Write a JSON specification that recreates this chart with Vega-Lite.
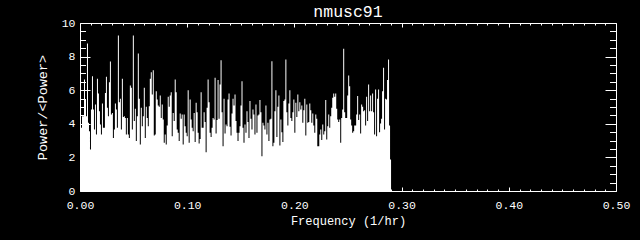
{
"$schema": "https://vega.github.io/schema/vega-lite/v6.json",
"width": 536, "height": 168,
"autosize": "none",
"padding": {"left": 80, "top": 23, "right": 24, "bottom": 49},
"background": "black",
"config": {"view": {"stroke": null}},
"title": {"text": "nmusc91", "color": "white", "fontSize": 16.5, "fontWeight": "normal", "font": "Liberation Mono", "offset": 3, "dy": 6, "anchor": "middle"},
"data": {"values": [
{"f":0,"p":3.8},{"f":0.00093,"p":3.76},{"f":0.00186,"p":4.45},{"f":0.00279,"p":4.45},{"f":0.00372,"p":6.64},{"f":0.00465,"p":5.45},{"f":0.00558,"p":4.45},{"f":0.00651,"p":8.78},{"f":0.00744,"p":4.06},{"f":0.00837,"p":3.56},
{"f":0.0093,"p":2.47},{"f":0.01023,"p":4.85},{"f":0.01116,"p":6.83},{"f":0.01209,"p":4.85},{"f":0.01302,"p":3.66},{"f":0.01395,"p":5.15},{"f":0.01488,"p":3.36},{"f":0.01581,"p":6.68},{"f":0.01674,"p":5.80},{"f":0.01767,"p":4.75},
{"f":0.0186,"p":3.96},{"f":0.01953,"p":3.36},{"f":0.02046,"p":5.21},{"f":0.02139,"p":3.76},{"f":0.02232,"p":3.76},{"f":0.02325,"p":5.84},{"f":0.02418,"p":6.80},{"f":0.02511,"p":4.95},{"f":0.02604,"p":4.45},{"f":0.02697,"p":6.48},
{"f":0.0279,"p":7.71},{"f":0.02883,"p":4.55},{"f":0.02976,"p":4.65},{"f":0.03069,"p":3.16},{"f":0.03162,"p":3.66},{"f":0.03255,"p":5.21},{"f":0.03348,"p":4.85},{"f":0.03441,"p":3.76},{"f":0.03534,"p":9.26},{"f":0.03627,"p":5.29},
{"f":0.0372,"p":5.49},{"f":0.03813,"p":3.66},{"f":0.03906,"p":6.68},{"f":0.03999,"p":4.41},{"f":0.04092,"p":4.45},{"f":0.04185,"p":4.35},{"f":0.04278,"p":3.36},{"f":0.04371,"p":4.35},{"f":0.04464,"p":3.36},{"f":0.04557,"p":3.16},
{"f":0.0465,"p":6.28},{"f":0.04743,"p":6.14},{"f":0.04836,"p":3.66},{"f":0.04929,"p":9.26},{"f":0.05022,"p":4.16},{"f":0.05115,"p":4.89},{"f":0.05208,"p":2.97},{"f":0.05301,"p":4.45},{"f":0.05394,"p":8.18},{"f":0.05487,"p":5.49},
{"f":0.0558,"p":2.77},{"f":0.05673,"p":4.95},{"f":0.05766,"p":3.86},{"f":0.05859,"p":4.45},{"f":0.05952,"p":6.14},{"f":0.06045,"p":3.16},{"f":0.06138,"p":5.01},{"f":0.06231,"p":4.35},{"f":0.06324,"p":3.86},{"f":0.06417,"p":5.05},
{"f":0.0651,"p":6.68},{"f":0.06603,"p":7.07},{"f":0.06696,"p":5.74},{"f":0.06789,"p":7.19},{"f":0.06882,"p":3.30},{"f":0.06975,"p":3.36},{"f":0.07068,"p":5.94},{"f":0.07161,"p":5.45},{"f":0.07254,"p":5.09},{"f":0.07347,"p":5.01},
{"f":0.0744,"p":5.68},{"f":0.07533,"p":4.35},{"f":0.07626,"p":5.15},{"f":0.07719,"p":4.26},{"f":0.07812,"p":2.87},{"f":0.07905,"p":3.36},{"f":0.07998,"p":2.77},{"f":0.08091,"p":3.90},{"f":0.08184,"p":5.61},{"f":0.08277,"p":5.01},
{"f":0.0837,"p":5.68},{"f":0.08463,"p":5.88},{"f":0.08556,"p":3.26},{"f":0.08649,"p":4.65},{"f":0.08742,"p":4.16},{"f":0.08835,"p":6.64},{"f":0.08928,"p":5.88},{"f":0.09021,"p":3.66},{"f":0.09114,"p":3.46},{"f":0.09207,"p":2.97},
{"f":0.093,"p":4.61},{"f":0.09393,"p":4.30},{"f":0.09486,"p":4.55},{"f":0.09579,"p":2.77},{"f":0.09672,"p":4.55},{"f":0.09765,"p":3.86},{"f":0.09858,"p":3.46},{"f":0.09951,"p":3.26},{"f":0.10044,"p":6.00},{"f":0.10137,"p":2.87},
{"f":0.1023,"p":5.45},{"f":0.10323,"p":4.26},{"f":0.10416,"p":3.76},{"f":0.10509,"p":3.56},{"f":0.10602,"p":4.65},{"f":0.10695,"p":2.91},{"f":0.10788,"p":5.25},{"f":0.10881,"p":4.69},{"f":0.10974,"p":3.46},{"f":0.11067,"p":2.83},
{"f":0.1116,"p":3.10},{"f":0.11253,"p":5.88},{"f":0.11346,"p":3.76},{"f":0.11439,"p":3.76},{"f":0.11532,"p":4.69},{"f":0.11625,"p":4.10},{"f":0.11718,"p":2.31},{"f":0.11811,"p":4.95},{"f":0.11904,"p":6.64},{"f":0.11997,"p":5.29},
{"f":0.1209,"p":3.46},{"f":0.12183,"p":3.22},{"f":0.12276,"p":3.76},{"f":0.12369,"p":4.35},{"f":0.12462,"p":4.26},{"f":0.12555,"p":6.74},{"f":0.12648,"p":3.42},{"f":0.12741,"p":4.22},{"f":0.12834,"p":6.60},{"f":0.12927,"p":4.30},
{"f":0.1302,"p":6.34},{"f":0.13113,"p":7.79},{"f":0.13206,"p":4.69},{"f":0.13299,"p":2.67},{"f":0.13392,"p":5.49},{"f":0.13485,"p":3.42},{"f":0.13578,"p":3.96},{"f":0.13671,"p":3.86},{"f":0.13764,"p":5.45},{"f":0.13857,"p":5.80},
{"f":0.1395,"p":3.82},{"f":0.14043,"p":3.30},{"f":0.14136,"p":4.61},{"f":0.14229,"p":5.49},{"f":0.14322,"p":5.09},{"f":0.14415,"p":5.74},{"f":0.14508,"p":4.16},{"f":0.14601,"p":3.46},{"f":0.14694,"p":2.97},{"f":0.14787,"p":3.46},
{"f":0.1488,"p":3.86},{"f":0.14973,"p":5.09},{"f":0.15066,"p":6.54},{"f":0.15159,"p":3.76},{"f":0.15252,"p":2.87},{"f":0.15345,"p":3.96},{"f":0.15438,"p":3.46},{"f":0.15531,"p":4.75},{"f":0.15624,"p":4.10},{"f":0.15717,"p":3.16},
{"f":0.1581,"p":5.35},{"f":0.15903,"p":4.30},{"f":0.15996,"p":3.66},{"f":0.16089,"p":4.85},{"f":0.16182,"p":4.55},{"f":0.16275,"p":3.36},{"f":0.16368,"p":5.15},{"f":0.16461,"p":3.46},{"f":0.16554,"p":4.49},{"f":0.16647,"p":4.55},
{"f":0.1674,"p":5.41},{"f":0.16833,"p":4.69},{"f":0.16926,"p":2.07},{"f":0.17019,"p":4.06},{"f":0.17112,"p":3.90},{"f":0.17205,"p":3.66},{"f":0.17298,"p":5.09},{"f":0.17391,"p":3.36},{"f":0.17484,"p":4.06},{"f":0.17577,"p":2.97},
{"f":0.1767,"p":4.26},{"f":0.17763,"p":4.30},{"f":0.17856,"p":7.73},{"f":0.17949,"p":2.67},{"f":0.18042,"p":2.87},{"f":0.18135,"p":4.75},{"f":0.18228,"p":6.00},{"f":0.18321,"p":3.22},{"f":0.18414,"p":5.01},{"f":0.18507,"p":5.68},
{"f":0.186,"p":2.71},{"f":0.18693,"p":4.26},{"f":0.18786,"p":3.50},{"f":0.18879,"p":2.91},{"f":0.18972,"p":5.35},{"f":0.19065,"p":5.45},{"f":0.19158,"p":7.83},{"f":0.19251,"p":4.69},{"f":0.19344,"p":3.90},{"f":0.19437,"p":5.21},
{"f":0.1953,"p":6.00},{"f":0.19623,"p":4.35},{"f":0.19716,"p":4.16},{"f":0.19809,"p":4.69},{"f":0.19902,"p":5.45},{"f":0.19995,"p":3.46},{"f":0.20088,"p":5.25},{"f":0.20181,"p":4.41},{"f":0.20274,"p":5.74},{"f":0.20367,"p":4.75},
{"f":0.2046,"p":5.29},{"f":0.20553,"p":4.85},{"f":0.20646,"p":5.09},{"f":0.20739,"p":4.06},{"f":0.20832,"p":4.81},{"f":0.20925,"p":5.49},{"f":0.21018,"p":3.30},{"f":0.21111,"p":5.15},{"f":0.21204,"p":4.06},{"f":0.21297,"p":4.10},
{"f":0.2139,"p":5.21},{"f":0.21483,"p":4.81},{"f":0.21576,"p":4.06},{"f":0.21669,"p":4.61},{"f":0.21762,"p":3.90},{"f":0.21855,"p":3.46},{"f":0.21948,"p":4.55},{"f":0.22041,"p":4.30},{"f":0.22134,"p":2.67},{"f":0.22227,"p":2.67},
{"f":0.2232,"p":3.36},{"f":0.22413,"p":3.66},{"f":0.22506,"p":3.03},{"f":0.22599,"p":3.96},{"f":0.22692,"p":3.36},{"f":0.22785,"p":3.56},{"f":0.22878,"p":5.41},{"f":0.22971,"p":3.07},{"f":0.23064,"p":3.86},{"f":0.23157,"p":4.55},
{"f":0.2325,"p":3.76},{"f":0.23343,"p":4.45},{"f":0.23436,"p":4.95},{"f":0.23529,"p":5.55},{"f":0.23622,"p":5.80},{"f":0.23715,"p":5.61},{"f":0.23808,"p":5.80},{"f":0.23901,"p":4.89},{"f":0.23994,"p":4.26},{"f":0.24087,"p":4.10},
{"f":0.2418,"p":4.26},{"f":0.24273,"p":2.87},{"f":0.24366,"p":4.35},{"f":0.24459,"p":4.85},{"f":0.24552,"p":8.46},{"f":0.24645,"p":4.69},{"f":0.24738,"p":4.35},{"f":0.24831,"p":4.35},{"f":0.24924,"p":5.68},{"f":0.25017,"p":6.87},
{"f":0.2511,"p":6.24},{"f":0.25203,"p":4.26},{"f":0.25296,"p":3.90},{"f":0.25389,"p":3.46},{"f":0.25482,"p":3.56},{"f":0.25575,"p":3.90},{"f":0.25668,"p":3.90},{"f":0.25761,"p":4.55},{"f":0.25854,"p":5.65},{"f":0.25947,"p":4.22},
{"f":0.2604,"p":4.55},{"f":0.26133,"p":3.42},{"f":0.26226,"p":5.15},{"f":0.26319,"p":5.01},{"f":0.26412,"p":4.75},{"f":0.26505,"p":4.81},{"f":0.26598,"p":3.90},{"f":0.26691,"p":5.61},{"f":0.26784,"p":4.16},{"f":0.26877,"p":6.34},
{"f":0.2697,"p":4.75},{"f":0.27063,"p":5.68},{"f":0.27156,"p":4.75},{"f":0.27249,"p":5.80},{"f":0.27342,"p":4.69},{"f":0.27435,"p":3.36},{"f":0.27528,"p":6.04},{"f":0.27621,"p":3.26},{"f":0.27714,"p":5.49},{"f":0.27807,"p":6.04},
{"f":0.279,"p":3.50},{"f":0.27993,"p":4.02},{"f":0.28086,"p":4.30},{"f":0.28179,"p":5.94},{"f":0.28272,"p":7.33},{"f":0.28365,"p":3.66},{"f":0.28458,"p":5.49},{"f":0.28551,"p":5.45},{"f":0.28644,"p":6.60},{"f":0.28737,"p":7.83},
{"f":0.2883,"p":3.90},{"f":0.28923,"p":1.88},{"f":0.29016,"p":1.88}
]},
"layer": [
{"mark": {"type": "area", "interpolate": "step-after", "color": "white", "opacity": 1},
 "encoding": {
  "x": {"field": "f", "type": "quantitative", "scale": {"domain": [0, 0.5], "nice": false, "zero": false},
   "axis": {"orient": "bottom", "grid": false,
    "values": [0,0.01,0.02,0.03,0.04,0.05,0.06,0.07,0.08,0.09,0.1,0.11,0.12,0.13,0.14,0.15,0.16,0.17,0.18,0.19,0.2,0.21,0.22,0.23,0.24,0.25,0.26,0.27,0.28,0.29,0.3,0.31,0.32,0.33,0.34,0.35,0.36,0.37,0.38,0.39,0.4,0.41,0.42,0.43,0.44,0.45,0.46,0.47,0.48,0.49,0.5],
    "tickSize": {"condition": {"test": "abs(datum.value*10-round(datum.value*10))<0.001", "value": -4}, "value": -2},
    "labelExpr": "abs(datum.value*10-round(datum.value*10))<0.001 ? format(datum.value,'.2f') : ''",
    "labelFlush": false, "labelOverlap": false, "labelBound": false,
    "domainColor": "white", "tickColor": "white", "labelColor": "white", "titleColor": "white",
    "labelFont": "Liberation Mono", "labelFontSize": 11.5, "labelPadding": 12,
    "title": "Frequency (1/hr)", "titleFont": "Liberation Mono", "titleFontSize": 12, "titleFontWeight": "normal", "titlePadding": 3}},
  "y": {"field": "p", "type": "quantitative", "scale": {"domain": [0, 10], "nice": false},
   "axis": {"orient": "left", "grid": false,
    "values": [0,0.5,1,1.5,2,2.5,3,3.5,4,4.5,5,5.5,6,6.5,7,7.5,8,8.5,9,9.5,10],
    "tickSize": {"condition": {"test": "abs(datum.value/2-round(datum.value/2))<0.001", "value": -10}, "value": -5.5},
    "labelExpr": "abs(datum.value/2-round(datum.value/2))<0.001 ? format(datum.value,'d') : ''",
    "labelFlush": false, "labelOverlap": false, "labelBound": false,
    "domainColor": "white", "tickColor": "white", "labelColor": "white", "titleColor": "white",
    "labelFont": "Liberation Mono", "labelFontSize": 11.5, "labelPadding": 15,
    "title": "Power/<Power>", "titleFont": "Liberation Mono", "titleFontSize": 13.5, "titleFontWeight": "normal", "titlePadding": 12}}
 }},
{"mark": {"type": "area", "opacity": 0},
 "encoding": {
  "x": {"field": "f", "type": "quantitative", "scale": {"domain": [0, 0.5], "nice": false, "zero": false},
   "axis": {"orient": "top", "grid": false, "labels": false, "title": null,
    "values": [0,0.01,0.02,0.03,0.04,0.05,0.06,0.07,0.08,0.09,0.1,0.11,0.12,0.13,0.14,0.15,0.16,0.17,0.18,0.19,0.2,0.21,0.22,0.23,0.24,0.25,0.26,0.27,0.28,0.29,0.3,0.31,0.32,0.33,0.34,0.35,0.36,0.37,0.38,0.39,0.4,0.41,0.42,0.43,0.44,0.45,0.46,0.47,0.48,0.49,0.5],
    "tickSize": {"condition": {"test": "abs(datum.value*10-round(datum.value*10))<0.001", "value": -4}, "value": -2},
    "domainColor": "white", "tickColor": "white"}},
  "y": {"field": "p", "type": "quantitative", "scale": {"domain": [0, 10], "nice": false},
   "axis": {"orient": "right", "grid": false, "labels": false, "title": null,
    "values": [0,0.5,1,1.5,2,2.5,3,3.5,4,4.5,5,5.5,6,6.5,7,7.5,8,8.5,9,9.5,10],
    "tickSize": {"condition": {"test": "abs(datum.value/2-round(datum.value/2))<0.001", "value": -11}, "value": -6.5},
    "domainColor": "white", "tickColor": "white"}}
 }}
],
"resolve": {"axis": {"x": "independent", "y": "independent"}}
}
